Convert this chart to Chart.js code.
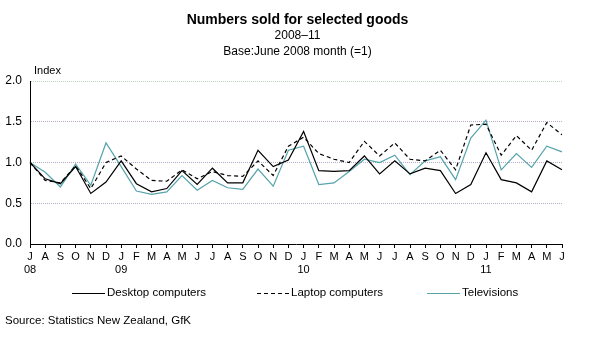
<!DOCTYPE html>
<html>
<head>
<meta charset="utf-8">
<title>Numbers sold for selected goods</title>
<script src="https://cdn.jsdelivr.net/npm/chart.js@4/dist/chart.umd.min.js"></script>
<style>
  html, body { margin: 0; padding: 0; background: #fff; }
  #wrap { width: 589px; height: 338px; position: relative; }
</style>
</head>
<body>
<div id="wrap"><canvas id="c" width="589" height="338"></canvas></div>
<script>
// Month initials, June 2008 to June 2011, with the year shown under each January (and the first month)
const months = ['J','A','S','O','N','D',
  'J','F','M','A','M','J','J','A','S','O','N','D',
  'J','F','M','A','M','J','J','A','S','O','N','D',
  'J','F','M','A','M','J'];
const yearMarks = {0: '08', 6: '09', 18: '10', 30: '11'};

// Index values (June 2008 = 1)
const desktop = [1.00, 0.80, 0.74, 0.95, 0.62, 0.76, 1.02, 0.74, 0.64, 0.68, 0.90, 0.73,
  0.93, 0.75, 0.75, 1.15, 0.95, 1.03, 1.38, 0.90, 0.89, 0.90, 1.08, 0.86,
  1.02, 0.86, 0.93, 0.90, 0.62, 0.73, 1.12, 0.79, 0.75, 0.64, 1.02, 0.91];
const laptop = [1.00, 0.78, 0.75, 0.96, 0.68, 1.00, 1.08, 0.92, 0.78, 0.77, 0.91, 0.80,
  0.89, 0.84, 0.83, 1.02, 0.84, 1.20, 1.31, 1.11, 1.04, 1.00, 1.26, 1.08,
  1.24, 1.04, 1.02, 1.15, 0.91, 1.46, 1.47, 1.09, 1.33, 1.15, 1.49, 1.34];
const televisions = [1.00, 0.88, 0.70, 0.98, 0.72, 1.24, 0.95, 0.65, 0.61, 0.64, 0.84, 0.66,
  0.78, 0.69, 0.67, 0.92, 0.71, 1.15, 1.20, 0.73, 0.75, 0.89, 1.04, 1.00,
  1.09, 0.85, 1.02, 1.07, 0.79, 1.30, 1.52, 0.91, 1.11, 0.94, 1.20, 1.13];

const yTicks = [0, 0.5, 1.0, 1.5, 2.0];

const titleLines = ['Numbers sold for selected goods', '2008\u201311', 'Base:June 2008 month (=1)'];
const yAxisTitle = 'Index';
const sourceNote = 'Source: Statistics New Zealand, GfK';

const FONT = '"Liberation Sans", Arial, sans-serif';
const TEAL = '#55a3ab';

const labels = months.map((m, i) => yearMarks[i] ? [m, yearMarks[i]] : [m, '']);

// Titles, axis caption, legend and source note drawn around the plot
const decorations = {
  id: 'decorations',
  afterDraw(chart) {
    const ctx = chart.ctx;
    const cx = chart.width / 2 + 3;
    ctx.save();
    ctx.fillStyle = '#000';
    ctx.textAlign = 'center';
    ctx.textBaseline = 'middle';
    ctx.font = 'bold 14px ' + FONT;
    ctx.fillText(titleLines[0], cx, 20);
    ctx.font = '12px ' + FONT;
    ctx.fillText(titleLines[1], cx, 36);
    ctx.fillText(titleLines[2], cx, 52);

    ctx.textAlign = 'left';
    ctx.font = '11px ' + FONT;
    ctx.fillText(yAxisTitle, 34, 71);

    // legend
    const ly = 293;
    const items = [
      {text: chart.data.datasets[0].label, x0: 72, x1: 105, color: '#000', dash: []},
      {text: chart.data.datasets[1].label, x0: 257, x1: 289, color: '#000', dash: [4, 3]},
      {text: chart.data.datasets[2].label, x0: 427, x1: 460, color: TEAL, dash: []}
    ];
    ctx.font = '11.5px ' + FONT;
    items.forEach(it => {
      ctx.beginPath();
      ctx.setLineDash(it.dash);
      ctx.strokeStyle = it.color;
      ctx.lineWidth = 1;
      ctx.moveTo(it.x0, ly + 0.5);
      ctx.lineTo(it.x1, ly + 0.5);
      ctx.stroke();
      ctx.fillText(it.text, it.x1 + 2, ly);
    });
    ctx.setLineDash([]);

    ctx.font = '11.5px ' + FONT;
    ctx.fillText(sourceNote, 5, 321);
    ctx.restore();
  }
};

new Chart(document.getElementById('c'), {
  type: 'line',
  data: {
    labels: labels,
    datasets: [
      {label: 'Desktop computers', data: desktop, borderColor: '#000', borderWidth: 1.2},
      {label: 'Laptop computers', data: laptop, borderColor: '#000', borderWidth: 1.2, borderDash: [4, 3]},
      {label: 'Televisions', data: televisions, borderColor: TEAL, borderWidth: 1.2}
    ]
  },
  options: {
    responsive: false,
    animation: false,
    events: [],
    elements: {
      point: {radius: 0},
      line: {tension: 0, fill: false}
    },
    layout: {padding: {top: 81, right: 27, left: 0, bottom: 0}},
    plugins: {
      legend: {display: false},
      title: {display: false},
      tooltip: {enabled: false}
    },
    scales: {
      x: {
        type: 'category',
        offset: false,
        afterFit(scale) { scale.height = 94; },
        grid: {
          drawOnChartArea: false,
          drawTicks: true,
          tickLength: 4,
          color: '#000'
        },
        border: {display: true, color: '#000', width: 1},
        ticks: {
          autoSkip: false,
          maxRotation: 0,
          minRotation: 0,
          padding: 2,
          color: '#000',
          font: {family: FONT, size: 11, lineHeight: 1.2}
        }
      },
      y: {
        min: 0,
        max: 2,
        afterFit(scale) { scale.width = 30; },
        afterBuildTicks(scale) { scale.ticks = yTicks.map(v => ({value: v})); },
        grid: {
          drawTicks: false,
          color: ctx => ctx.tick && ctx.tick.value === 0 ? 'rgba(0,0,0,0)'
            : (ctx.tick && ctx.tick.value === 2 ? '#c2d2c2' : '#b9abc8'),
          lineWidth: 1
        },
        border: {display: true, color: '#000', width: 1, dash: [1, 1]},
        ticks: {
          padding: 8,
          color: '#000',
          font: {family: FONT, size: 12},
          callback: v => Number(v).toFixed(1)
        }
      }
    }
  },
  plugins: [decorations]
});
</script>
</body>
</html>
